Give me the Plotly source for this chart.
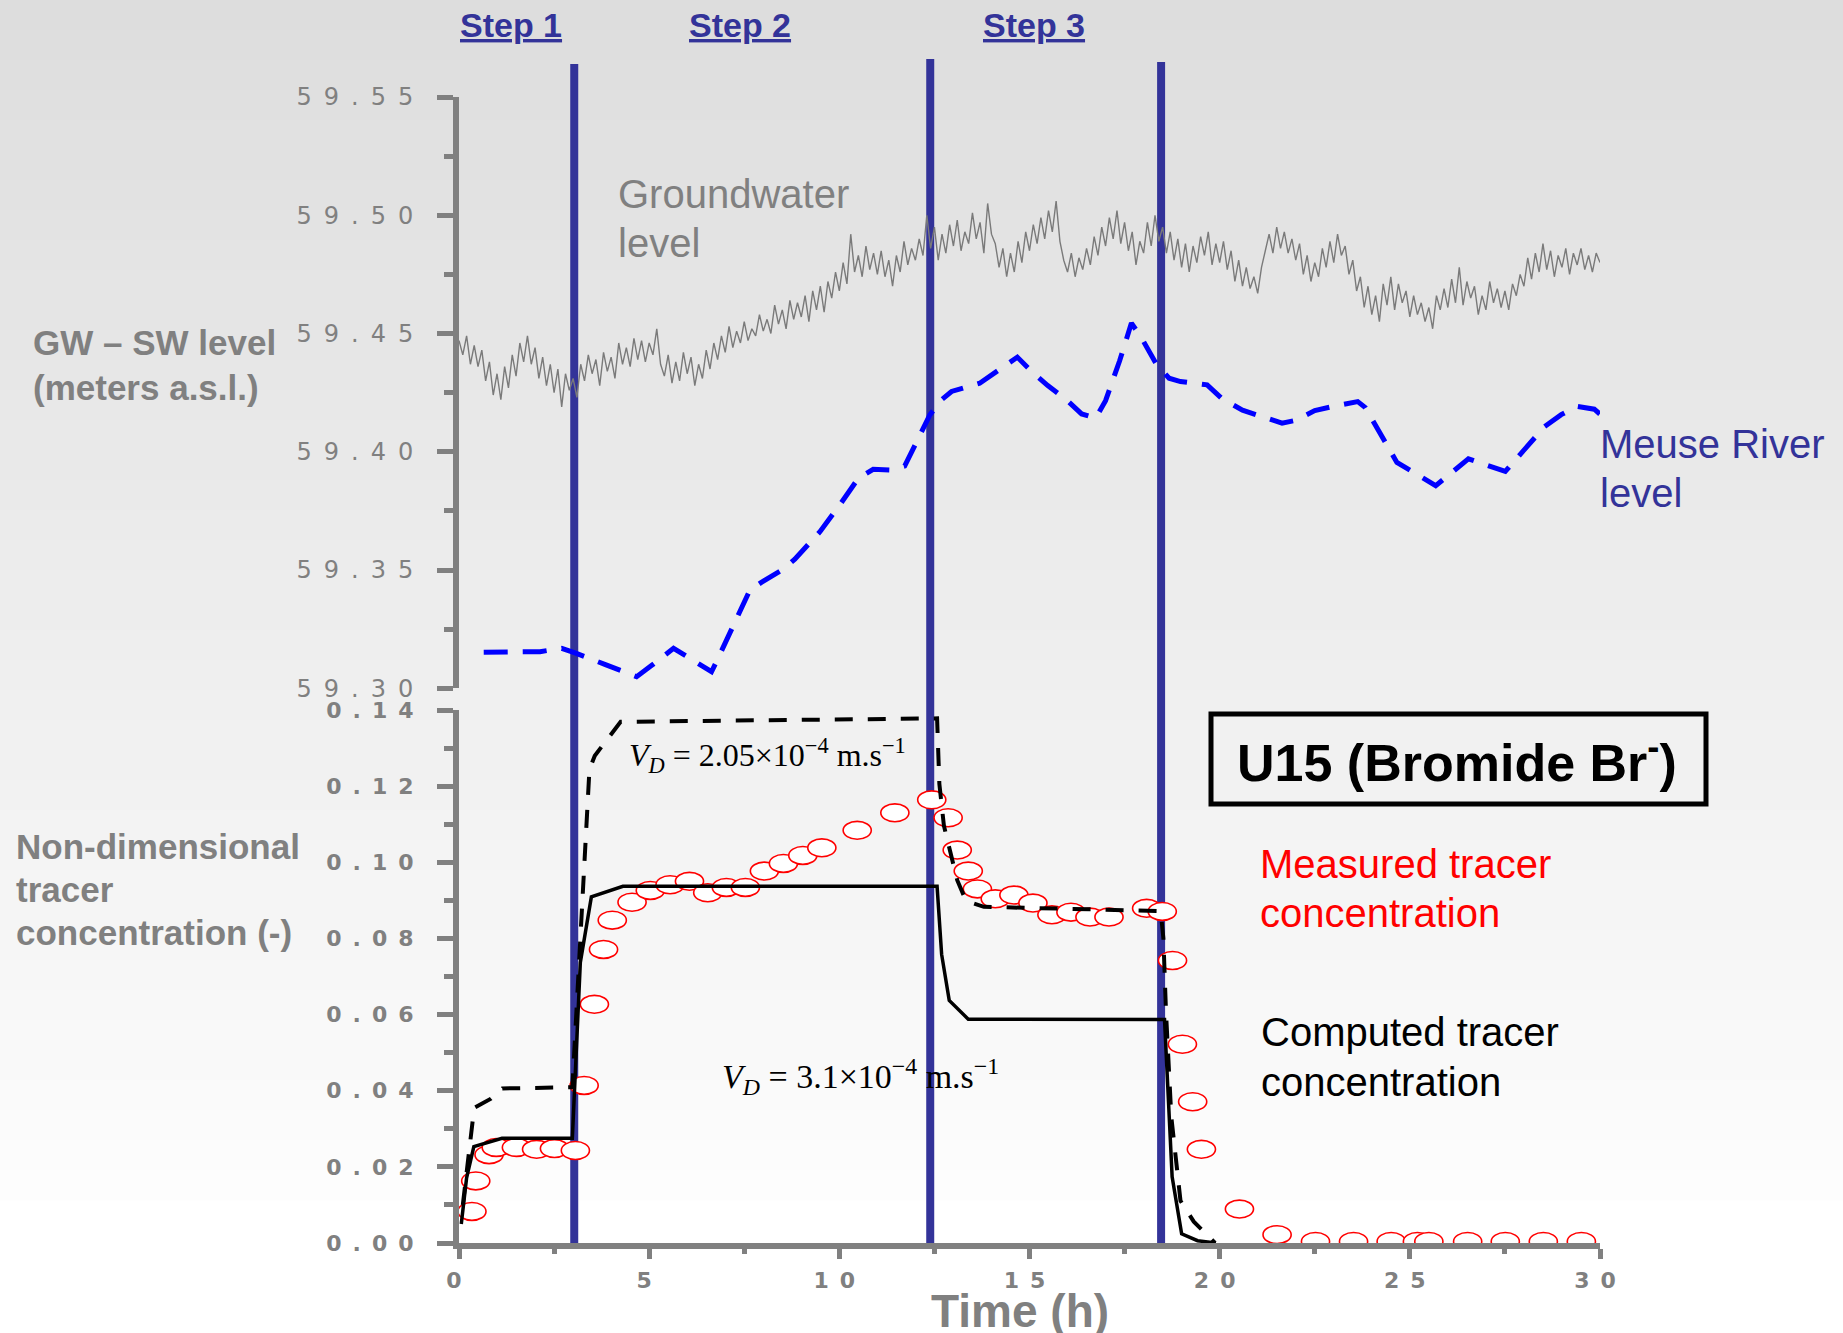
import plotly.graph_objects as go

# ---------------------------------------------------------------- data
# Groundwater level logged every 0.1 h (m a.s.l.)
gw_time = [round(0.1 * i, 1) for i in range(301)]
gw_level = [
    59.447, 59.441, 59.449, 59.437, 59.445, 59.436, 59.443, 59.430, 59.438, 59.424,
    59.433, 59.422, 59.436, 59.427, 59.441, 59.432, 59.446, 59.438, 59.449, 59.437,
    59.444, 59.431, 59.440, 59.428, 59.437, 59.425, 59.435, 59.419, 59.433, 59.426,
    59.431, 59.423, 59.437, 59.430, 59.441, 59.433, 59.439, 59.428, 59.442, 59.434,
    59.440, 59.431, 59.446, 59.437, 59.444, 59.436, 59.448, 59.439, 59.447, 59.438,
    59.446, 59.441, 59.452, 59.437, 59.432, 59.441, 59.429, 59.438, 59.430, 59.442,
    59.433, 59.440, 59.428, 59.437, 59.431, 59.443, 59.435, 59.446, 59.439, 59.449,
    59.442, 59.453, 59.444, 59.451, 59.446, 59.455, 59.447, 59.452, 59.449, 59.458,
    59.451, 59.456, 59.450, 59.462, 59.454, 59.460, 59.452, 59.464, 59.456, 59.463,
    59.457, 59.466, 59.455, 59.468, 59.460, 59.470, 59.459, 59.472, 59.465, 59.476,
    59.468, 59.480, 59.471, 59.492, 59.476, 59.483, 59.474, 59.487, 59.477, 59.484,
    59.475, 59.485, 59.474, 59.481, 59.470, 59.483, 59.476, 59.489, 59.479, 59.486,
    59.481, 59.490, 59.483, 59.500, 59.486, 59.495, 59.481, 59.492, 59.484, 59.496,
    59.487, 59.498, 59.485, 59.493, 59.488, 59.501, 59.490, 59.497, 59.484, 59.505,
    59.492, 59.488, 59.478, 59.486, 59.474, 59.484, 59.476, 59.489, 59.480, 59.493,
    59.485, 59.496, 59.488, 59.499, 59.490, 59.502, 59.493, 59.506, 59.489, 59.481,
    59.476, 59.484, 59.474, 59.482, 59.477, 59.486, 59.479, 59.491, 59.483, 59.495,
    59.487, 59.499, 59.490, 59.502, 59.488, 59.497, 59.485, 59.493, 59.479, 59.489,
    59.484, 59.497, 59.487, 59.500, 59.489, 59.495, 59.484, 59.493, 59.481, 59.490,
    59.478, 59.488, 59.476, 59.487, 59.480, 59.491, 59.483, 59.493, 59.479, 59.488,
    59.480, 59.489, 59.477, 59.485, 59.472, 59.481, 59.470, 59.478, 59.469, 59.474,
    59.467, 59.478, 59.485, 59.492, 59.484, 59.495, 59.486, 59.493, 59.484, 59.490,
    59.481, 59.488, 59.475, 59.483, 59.472, 59.480, 59.474, 59.486, 59.478, 59.489,
    59.480, 59.492, 59.483, 59.487, 59.475, 59.481, 59.468, 59.474, 59.461, 59.470,
    59.458, 59.466, 59.455, 59.471, 59.462, 59.474, 59.460, 59.471, 59.463, 59.468,
    59.457, 59.466, 59.458, 59.463, 59.455, 59.461, 59.452, 59.466, 59.460, 59.469,
    59.461, 59.473, 59.463, 59.478, 59.462, 59.472, 59.465, 59.470, 59.458, 59.466,
    59.460, 59.472, 59.463, 59.469, 59.461, 59.468, 59.460, 59.471, 59.466, 59.475,
    59.470, 59.482, 59.473, 59.484, 59.476, 59.488, 59.477, 59.485, 59.474, 59.483,
    59.478, 59.486, 59.475, 59.484, 59.479, 59.486, 59.477, 59.483, 59.476, 59.484,
    59.480,
]

# Meuse River level (m a.s.l.)
river_time = [0.65, 2.13, 2.70, 3.05, 3.85, 4.67, 5.06, 5.64, 6.03, 6.64,
              6.77, 7.29, 7.65, 7.95, 8.52, 8.83, 9.49, 10.01, 10.50, 10.89,
              11.33, 11.72, 12.12, 12.38, 12.69, 12.95, 13.69, 14.27, 14.68, 15.08,
              15.48, 15.97, 16.37, 16.74, 17.00, 17.37, 17.68, 17.95, 18.32, 18.67,
              18.97, 19.67, 20.06, 20.60, 20.96, 21.64, 22.00, 22.50, 22.98, 23.63,
              23.83, 24.25, 24.66, 25.68, 26.54, 27.51, 28.54, 28.98, 29.40, 29.85,
              30.00]
river_level = [59.3152, 59.3155, 59.3169, 59.3150, 59.3100, 59.3049, 59.3096, 59.3169, 59.3131, 59.3070,
               59.3113, 59.3289, 59.3416, 59.3448, 59.3503, 59.3546, 59.3662, 59.3775, 59.3888, 59.3926,
               59.3923, 59.3940, 59.4064, 59.4156, 59.4220, 59.4255, 59.4290, 59.4354, 59.4400, 59.4336,
               59.4280, 59.4220, 59.4160, 59.4142, 59.4216, 59.4385, 59.4544, 59.4480, 59.4375, 59.4311,
               59.4297, 59.4283, 59.4225, 59.4176, 59.4156, 59.4121, 59.4133, 59.4174, 59.4192, 59.4212,
               59.4187, 59.4066, 59.3955, 59.3857, 59.3970, 59.3917, 59.4106, 59.4157, 59.4192, 59.4180,
               59.4159]

# Measured tracer concentration (-)
meas_time = [0.34, 0.44, 0.79, 0.98, 1.51, 2.04, 2.51, 3.06, 3.29, 3.56,
             3.80, 4.03, 4.55, 5.03, 5.55, 6.06, 6.54, 7.03, 7.53, 8.03,
             8.53, 9.04, 9.54, 10.47, 11.46, 12.43, 12.86, 13.10, 13.39, 13.63,
             14.10, 14.59, 15.09, 15.59, 16.09, 16.59, 17.09, 18.08, 18.49, 18.76,
             19.02, 19.29, 19.52, 20.52, 21.51, 22.52, 23.52, 24.51, 25.20, 25.50,
             26.52, 27.51, 28.51, 29.51]
meas_conc = [0.0083, 0.0163, 0.0232, 0.0251, 0.0251, 0.0246, 0.0248, 0.0243, 0.0414, 0.0627,
             0.0771, 0.0848, 0.0895, 0.0926, 0.0941, 0.0950, 0.0920, 0.0934, 0.0934, 0.0977,
             0.0997, 0.1018, 0.1038, 0.1084, 0.1130, 0.1164, 0.1117, 0.1032, 0.0977, 0.0930,
             0.0904, 0.0914, 0.0893, 0.0862, 0.0869, 0.0856, 0.0856, 0.0879, 0.0871, 0.0742,
             0.0522, 0.0371, 0.0246, 0.0089, 0.0022, 0.0004, 0.0004, 0.0004, 0.0004, 0.0004,
             0.0004, 0.0004, 0.0004, 0.0004]

# Computed concentration, V_D = 3.1e-4 m/s (solid)
calc1_time = [0.06, 0.20, 0.39, 1.13, 2.98, 3.19, 3.48, 4.31, 12.57, 12.69,
              12.89, 13.39, 18.55, 18.75, 19.00, 19.42, 19.90]
calc1_conc = [0.0050, 0.0171, 0.0253, 0.0275, 0.0275, 0.0737, 0.0909, 0.0937, 0.0937, 0.0758,
              0.0637, 0.0588, 0.0587, 0.0174, 0.0024, 0.0006, 0.0000]

# Computed concentration, V_D = 2.05e-4 m/s (dashed)
calc2_time = [0.10, 0.40, 0.84, 1.14, 2.98, 3.43, 3.57, 4.25, 12.57, 12.63,
              12.75, 13.10, 13.33, 13.80, 18.45, 18.52, 18.59, 18.73, 18.97, 19.32,
              19.88]
calc2_conc = [0.0100, 0.0355, 0.0379, 0.0406, 0.0409, 0.1244, 0.1280, 0.1369, 0.1378, 0.1206,
              0.1096, 0.0953, 0.0899, 0.0883, 0.0872, 0.0800, 0.0604, 0.0330, 0.0111, 0.0056,
              0.0000]

# Injection step boundaries (h)
step_bounds = [3.03, 12.39, 18.46]
step_names = ["Step 1", "Step 2", "Step 3"]
step_centres = [1.37, 7.40, 15.12]

level_ticks = [59.30, 59.35, 59.40, 59.45, 59.50, 59.55]
conc_ticks = [0.00, 0.02, 0.04, 0.06, 0.08, 0.10, 0.12, 0.14]
time_ticks = [0, 5, 10, 15, 20, 25, 30]

# ---------------------------------------------------------------- geometry
W, H = 1843, 1333
ML, MR, MT, MB = 459, 243, 97, 90
PW, PH = W - ML - MR, H - MT - MB


def px(x):
    return (x - ML) / PW


def py(y):
    return (H - MB - y) / PH


GREY = "#808080"
NAVY = "#333399"
SANS = "Liberation Sans, Arial, sans-serif"
VERA = "DejaVu Sans, Verdana, sans-serif"
SERIF = "Liberation Serif, Times New Roman, serif"
EN_SPACE = "\u2002"


def spaced(s, sep=EN_SPACE):
    return sep.join(s)


fig = go.Figure()

fig.add_trace(go.Scatter(x=gw_time, y=gw_level, xaxis="x", yaxis="y2", mode="lines",
                         line=dict(color="#7a7a7a", width=1.4), hoverinfo="skip"))
fig.add_trace(go.Scatter(x=river_time, y=river_level, xaxis="x", yaxis="y2", mode="lines",
                         line=dict(color="#0000ff", width=5, dash="24px,15px"), hoverinfo="skip"))
fig.add_trace(go.Scatter(x=calc1_time, y=calc1_conc, xaxis="x", yaxis="y", mode="lines",
                         line=dict(color="black", width=3.5), hoverinfo="skip"))
fig.add_trace(go.Scatter(x=calc2_time, y=calc2_conc, xaxis="x", yaxis="y", mode="lines",
                         line=dict(color="black", width=4, dash="18px,15px"), hoverinfo="skip"))

shapes = []
# soft vertical background gradient
n_bands = 40
for i in range(n_bands):
    y0, y1 = 1200 * i / n_bands, 1200 * (i + 1) / n_bands
    g = min(255, round(221 + 32 * (y0 + y1) / 2 / 1200))
    shapes.append(dict(type="rect", xref="paper", yref="paper", layer="below",
                       x0=px(0), x1=px(W), y0=py(y1 + 0.5), y1=py(y0),
                       fillcolor=f"rgb({g},{g},{g})", line=dict(width=0)))

# step boundaries
tops = [64, 59, 62]
for t, top in zip(step_bounds, tops):
    shapes.append(dict(type="line", xref="x", yref="paper", layer="below",
                       x0=t, x1=t, y0=py(1247), y1=py(top),
                       line=dict(color=NAVY, width=8)))

# measured concentrations as open ellipses
half_w, half_h = 0.37, 0.00235
for t, c in zip(meas_time, meas_conc):
    shapes.append(dict(type="circle", xref="x", yref="y", layer="below",
                       x0=t - half_w, x1=t + half_w, y0=c - half_h, y1=c + half_h,
                       fillcolor="white", line=dict(color="#ff0000", width=1.6)))

# title box
shapes.append(dict(type="rect", xref="paper", yref="paper", layer="above",
                   x0=px(1211), x1=px(1706), y0=py(804), y1=py(714),
                   line=dict(color="black", width=5)))


def note(text, x, y, size, color, bold=False, anchor="left", family=SANS, xref="paper"):
    return dict(text=text, x=x if xref == "x" else px(x), y=py(y), xref=xref, yref="paper",
                xanchor=anchor, yanchor="middle", showarrow=False,
                font=dict(family=family, size=size, color=color,
                          weight="bold" if bold else "normal"))


ann = []
for name, ctr in zip(step_names, step_centres):
    ann.append(note(f"<u>{name}</u>", ctr, 25, 34, NAVY, bold=True, anchor="center", xref="x"))

ann += [
    note("GW – SW level", 31, 343, 35, GREY, bold=True),
    note("(meters a.s.l.)", 31, 387, 35, GREY, bold=True),
    note("Non-dimensional", 14, 846, 35, GREY, bold=True),
    note("tracer", 14, 889, 35, GREY, bold=True),
    note("concentration (-)", 14, 932, 35, GREY, bold=True),
    note("Groundwater", 616, 194, 40, GREY),
    note("level", 616, 243, 40, GREY),
    note("Meuse River", 1598, 444, 40, NAVY),
    note("level", 1598, 493, 40, NAVY),
    note("Measured tracer", 1258, 864, 40, "#ff0000"),
    note("concentration", 1258, 913, 40, "#ff0000"),
    note("Computed tracer", 1259, 1032, 40, "black"),
    note("concentration", 1259, 1082, 40, "black"),
    note("U15 (Bromide Br<sup>-</sup>)", 1457, 759, 52, "black", bold=True, anchor="center"),
    note("<i>V</i><sub><i>D</i></sub> = 2.05×10<sup>−4</sup> m.s<sup>−1</sup>",
         767, 756, 32, "black", anchor="center", family=SERIF),
    note("<i>V</i><sub><i>D</i></sub> = 3.1×10<sup>−4</sup> m.s<sup>−1</sup>",
         860, 1076, 34, "black", anchor="center", family=SERIF),
    note("Time (h)", 1020, 1311, 46, GREY, bold=True, anchor="center"),
]

axis_common = dict(showline=True, linecolor=GREY, linewidth=6, ticks="outside",
                   tickcolor=GREY, tickwidth=5, showgrid=False, zeroline=False,
                   fixedrange=True)

fig.update_layout(
    width=W, height=H,
    margin=dict(l=ML, r=MR, t=MT, b=MB, pad=0),
    paper_bgcolor="white", plot_bgcolor="rgba(0,0,0,0)",
    showlegend=False,
    xaxis=dict(domain=[0, 1], range=[0, 30], anchor="y", **axis_common,
               ticklen=10, tickvals=time_ticks,
               ticktext=[spaced(str(v)) for v in time_ticks],
               tickfont=dict(family=VERA, size=22, color=GREY, weight="bold"),
               ticklabelshift=-5, ticklabelstandoff=3,
               minor=dict(tickvals=[2.5, 7.5, 12.5, 17.5, 22.5, 27.5], ticks="outside",
                          ticklen=5, tickwidth=5, tickcolor=GREY)),
    yaxis=dict(domain=[0, py(710)], range=[0, 0.14], anchor="x", **axis_common,
               ticklen=16, tickvals=conc_ticks,
               ticktext=[spaced(f"{v:.2f}") for v in conc_ticks],
               tickfont=dict(family=VERA, size=22, color=GREY, weight="bold"),
               ticklabelstandoff=19,
               minor=dict(tickvals=[0.01, 0.03, 0.05, 0.07, 0.09, 0.11, 0.13], ticks="outside",
                          ticklen=9, tickwidth=5, tickcolor=GREY)),
    yaxis2=dict(domain=[py(688.3), 1], range=[59.30, 59.55], anchor="x", **axis_common,
                ticklen=16, tickvals=level_ticks,
                ticktext=[spaced(f"{v:.2f}") for v in level_ticks],
                tickfont=dict(family=VERA, size=24, color=GREY),
                ticklabelstandoff=19,
                minor=dict(tickvals=[59.325, 59.375, 59.425, 59.475, 59.525], ticks="outside",
                           ticklen=9, tickwidth=5, tickcolor=GREY)),
    shapes=shapes,
    annotations=ann,
)

fig.write_html("out.html")
